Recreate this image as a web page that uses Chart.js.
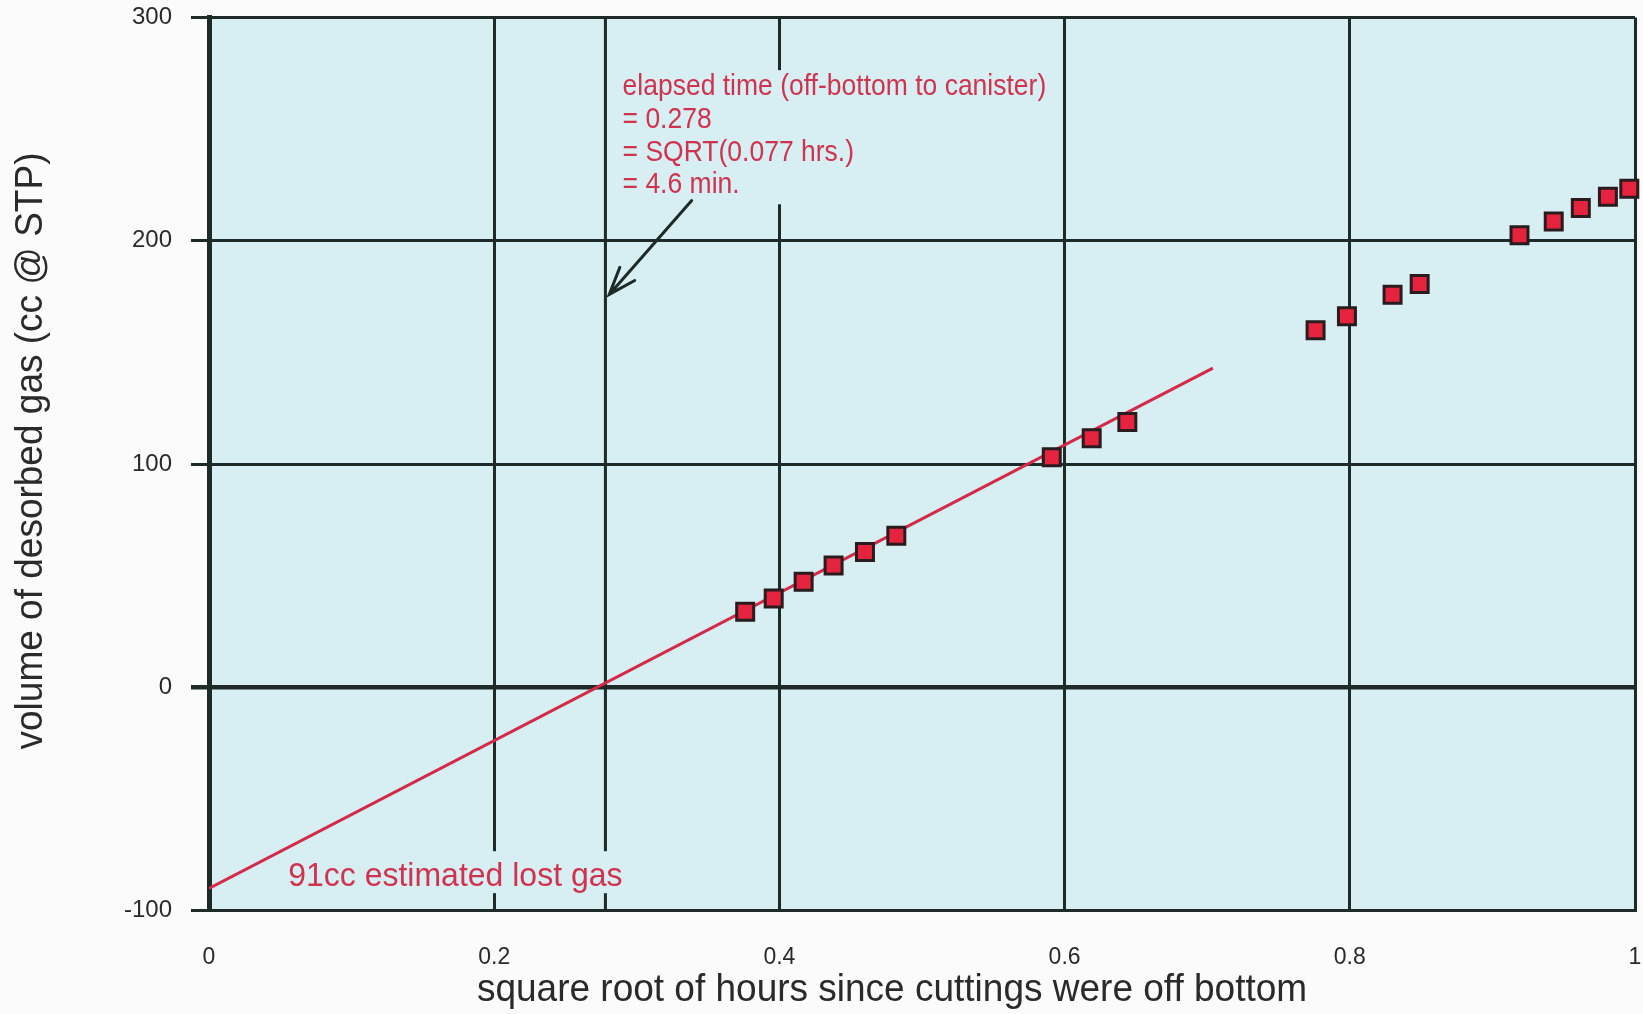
<!DOCTYPE html>
<html><head><meta charset="utf-8">
<script src="https://cdn.jsdelivr.net/npm/chart.js@4/dist/chart.umd.min.js"></script>
<style>html,body{margin:0;padding:0;background:#fbfbfb;overflow:hidden;} canvas{display:block;}</style>
</head><body>
<canvas id="c" width="1643" height="1014"></canvas>
<script>
// ---- data ----
const sqrtHours = [0.376, 0.396, 0.417, 0.438, 0.460, 0.482, 0.591, 0.619, 0.644, 0.776, 0.798, 0.830, 0.849, 0.919, 0.943, 0.962, 0.981, 0.996];
const gasVolume = [33.9, 39.8, 47.3, 54.6, 60.6, 67.9, 103.1, 111.6, 118.9, 159.9, 166.2, 175.8, 180.7, 202.5, 208.6, 214.7, 219.7, 223.3];
const fitLineX = [0, 0.704];
const fitLineY = [-90, 143];
const elapsedX = [0.278, 0.278];
const elapsedY = [-100, 300];
const arrowX = [0.3385, 0.2807];
const arrowY = [218, 176];
const xTicks = [0, 0.2, 0.4, 0.6, 0.8, 1];
const yTicks = [-100, 0, 100, 200, 300];
const xTitle = 'square root of hours since cuttings were off bottom';
const yTitle = 'volume of desorbed gas (cc @ STP)';
const noteLines = ['elapsed time (off-bottom to canister)', '= 0.278', '= SQRT(0.077 hrs.)', '= 4.6 min.'];
const lostGasNote = '91cc estimated lost gas';

// ---- styles ----
const FONT = '"Liberation Sans", Arial, Helvetica, sans-serif';
const PLOT_BG = '#d7eff2';
const PAGE_BG = '#fbfbfb';
const GRID = '#1d2a28';
const RED_TEXT = '#d0334f';
const RED_LINE = '#d42a4a';
const MARK_FILL = '#e6233e';
const MARK_EDGE = '#2a1c1e';
const TEXT = '#2a2a2a';

const toPts = (xs, ys) => xs.map((v, i) => ({x: v, y: ys[i]}));

function stretchedText(ctx, t, x, y, sy) {
  ctx.save();
  ctx.translate(x, y);
  ctx.scale(1, sy);
  ctx.fillText(t, 0, 0);
  ctx.restore();
}

const notes = {
  id: 'notes',
  beforeDraw(chart) {
    const {ctx, chartArea: a} = chart;
    ctx.save();
    ctx.fillStyle = PAGE_BG;
    ctx.fillRect(0, 0, chart.width, chart.height);
    ctx.fillStyle = PLOT_BG;
    ctx.fillRect(a.left, a.top, a.right - a.left, a.bottom - a.top);
    ctx.restore();
  },
  afterDatasetDraw(chart, args) {
    if (args.index !== 2) return;
    const {ctx, scales: {x, y}} = chart;
    ctx.save();
    ctx.textAlign = 'left';
    ctx.textBaseline = 'middle';
    // top annotation with opaque box
    ctx.font = '26.5px ' + FONT;
    const lx = x.getPixelForValue(0.290), cy0 = y.getPixelForValue(268.8), lh = 32.7;
    const w = Math.max(...noteLines.map(t => ctx.measureText(t).width));
    ctx.fillStyle = PLOT_BG;
    ctx.fillRect(lx - 7, cy0 - 17, w + 14, lh * (noteLines.length - 1) + 36);
    ctx.fillStyle = RED_TEXT;
    noteLines.forEach((t, i) => stretchedText(ctx, t, lx, cy0 + i * lh, 1.1));
    // bottom annotation
    ctx.font = '32px ' + FONT;
    const bx = x.getPixelForValue(0.0555), by = y.getPixelForValue(-85);
    const bw = ctx.measureText(lostGasNote).width;
    ctx.fillStyle = PLOT_BG;
    ctx.fillRect(bx - 6, by - 26, bw + 12, 42);
    ctx.fillStyle = RED_TEXT;
    stretchedText(ctx, lostGasNote, bx, by, 1.05);
    ctx.restore();
  },
  afterDatasetsDraw(chart) {
    const {ctx, scales: {x, y}} = chart;
    const x0 = x.getPixelForValue(arrowX[0]), y0 = y.getPixelForValue(arrowY[0]);
    const x1 = x.getPixelForValue(arrowX[1]), y1 = y.getPixelForValue(arrowY[1]);
    const ang = Math.atan2(y0 - y1, x0 - x1);
    const L = 29, spread = 20 * Math.PI / 180;
    ctx.save();
    ctx.strokeStyle = GRID;
    ctx.lineWidth = 3;
    ctx.lineCap = 'round';
    ctx.beginPath();
    ctx.moveTo(x0, y0); ctx.lineTo(x1, y1);
    ctx.moveTo(x1 + L * Math.cos(ang - spread), y1 + L * Math.sin(ang - spread));
    ctx.lineTo(x1, y1);
    ctx.lineTo(x1 + L * Math.cos(ang + spread), y1 + L * Math.sin(ang + spread));
    ctx.stroke();
    ctx.restore();
  },
  afterDraw(chart) {
    const {ctx} = chart;
    ctx.save();
    ctx.fillStyle = TEXT;
    ctx.font = '37px ' + FONT;
    ctx.textAlign = 'center';
    ctx.textBaseline = 'middle';
    stretchedText(ctx, xTitle, 892, 990, 1.06);
    ctx.translate(31, 451);
    ctx.rotate(-Math.PI / 2);
    ctx.scale(1, 1.06);
    ctx.fillText(yTitle, 0, 0);
    ctx.restore();
  }
};

new Chart(document.getElementById('c'), {
  type: 'scatter',
  data: {
    datasets: [
      {
        label: 'desorbed gas',
        data: toPts(sqrtHours, gasVolume),
        pointStyle: 'rect',
        pointRadius: 12,
        pointHoverRadius: 12,
        backgroundColor: MARK_FILL,
        borderColor: MARK_EDGE,
        borderWidth: 3,
        clip: false,
        order: 0
      },
      {
        label: 'lost gas fit',
        data: toPts(fitLineX, fitLineY),
        showLine: true,
        borderColor: RED_LINE,
        borderWidth: 3,
        pointRadius: 0,
        order: 1
      },
      {
        label: 'elapsed time',
        data: toPts(elapsedX, elapsedY),
        showLine: true,
        borderColor: GRID,
        borderWidth: 3,
        pointRadius: 0,
        order: 2
      }
    ]
  },
  options: {
    responsive: false,
    animation: false,
    devicePixelRatio: 1,
    layout: {autoPadding: false, padding: {top: 17.5, right: 8, bottom: 0, left: 0}},
    plugins: {legend: {display: false}, tooltip: {enabled: false}},
    scales: {
      x: {
        type: 'linear',
        min: xTicks[0], max: xTicks[xTicks.length - 1],
        afterBuildTicks: s => { s.ticks = xTicks.map(v => ({value: v})); },
        afterFit: s => { s.height = 103.3; s.paddingLeft = 0; s.paddingRight = 0; },
        grid: {color: GRID, lineWidth: 3, drawTicks: false},
        border: {color: GRID, width: 3},
        ticks: {
          color: TEXT, padding: 33,
          font: {family: FONT, size: 23},
          callback: v => String(v)
        }
      },
      y: {
        type: 'linear',
        min: yTicks[0], max: yTicks[yTicks.length - 1],
        afterBuildTicks: s => { s.ticks = yTicks.map(v => ({value: v})); },
        afterFit: s => { s.width = 209; s.paddingTop = 0; s.paddingBottom = 0; },
        grid: {
          color: GRID,
          lineWidth: c => (c.tick && c.tick.value === 0 ? 4.5 : 3),
          drawTicks: true, tickLength: 18
        },
        border: {color: GRID, width: 5},
        ticks: {
          color: TEXT, padding: 19,
          font: {family: FONT, size: 24},
          callback: v => String(v)
        }
      }
    }
  },
  plugins: [notes]
});
</script>
</body></html>
